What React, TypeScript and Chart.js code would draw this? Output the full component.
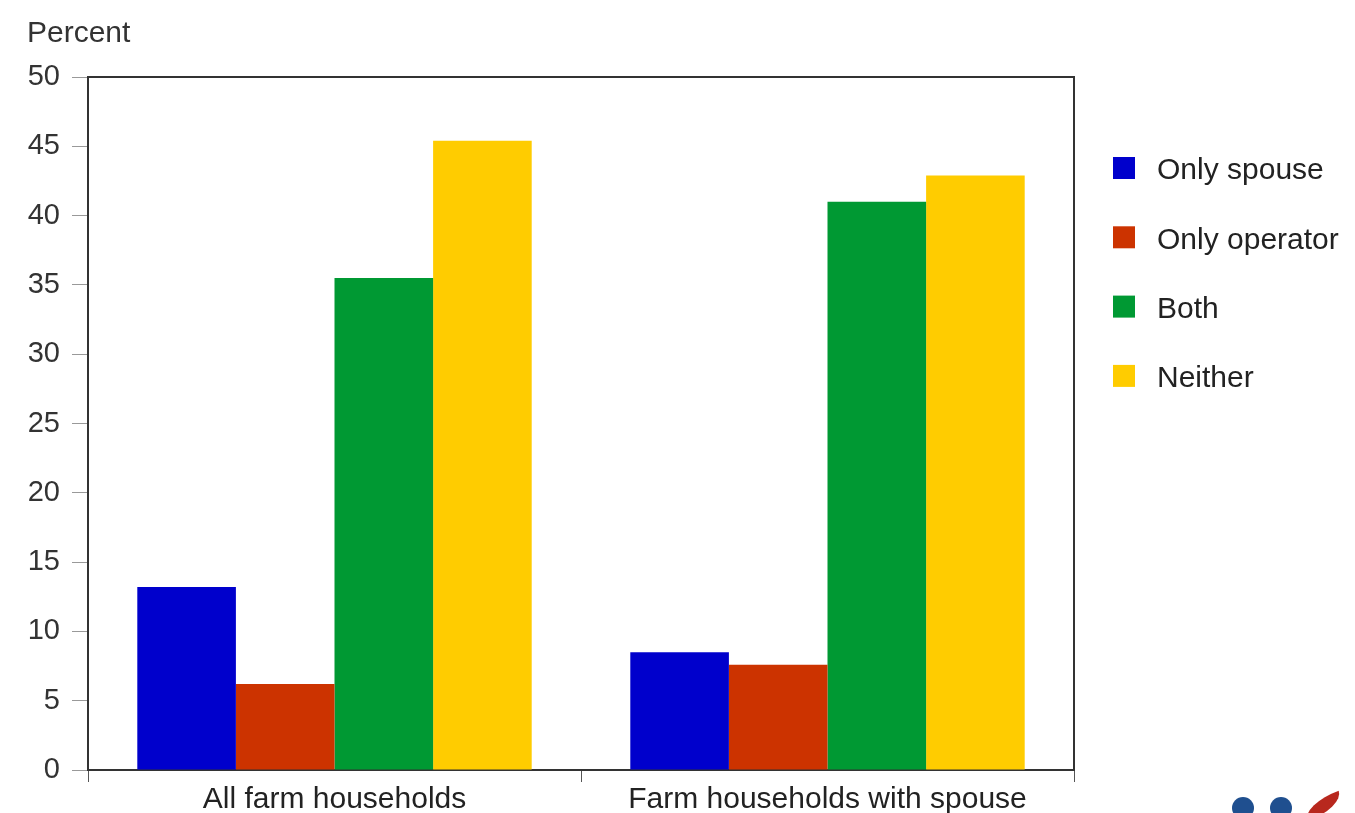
import React, { useEffect, useRef } from "react";
import { Chart, registerables } from "chart.js";

Chart.register(...registerables);

const categories = ["All farm households", "Farm households with spouse"];
const seriesNames = ["Only spouse", "Only operator", "Both", "Neither"];
const onlySpouse = [13.2, 8.5];
const onlyOperator = [6.2, 7.6];
const both = [35.5, 41.0];
const neither = [45.4, 42.9];
const seriesColors = ["#0000CC", "#CC3300", "#009933", "#FFCC00"];
const yTicks = [0, 5, 10, 15, 20, 25, 30, 35, 40, 45, 50];

const FONT = "'Liberation Sans', Arial, sans-serif";

const framePlugin = {
  id: "frame",
  afterDraw(chart: any) {
    const { ctx, chartArea } = chart;
    ctx.save();
    ctx.strokeStyle = "#333333";
    ctx.lineWidth = 2;
    ctx.beginPath();
    ctx.moveTo(chartArea.left, chartArea.top);
    ctx.lineTo(chartArea.right, chartArea.top);
    ctx.lineTo(chartArea.right, chartArea.bottom);
    ctx.stroke();
    // y-axis title
    ctx.fillStyle = "#333333";
    ctx.font = `30px ${FONT}`;
    ctx.textAlign = "left";
    ctx.textBaseline = "alphabetic";
    ctx.fillText("Percent", 27, 42);
    // legend
    const dsets = chart.data.datasets;
    ctx.font = `30px ${FONT}`;
    dsets.forEach((ds: any, i: number) => {
      const cy = 168 + i * 69.3;
      ctx.fillStyle = ds.backgroundColor;
      ctx.fillRect(1113, cy - 11, 22, 22);
      ctx.fillStyle = "#222222";
      ctx.textBaseline = "middle";
      ctx.fillText(ds.label, 1157, cy + 3);
    });
    ctx.restore();
  },
};

export default function App() {
  const ref = useRef<HTMLCanvasElement>(null);
  useEffect(() => {
    if (!ref.current) return;
    const chart = new Chart(ref.current, {
      type: "bar",
      data: {
        labels: categories,
        datasets: [onlySpouse, onlyOperator, both, neither].map((d, i) => ({
          label: seriesNames[i],
          data: d,
          backgroundColor: seriesColors[i],
          borderWidth: 0,
          categoryPercentage: 0.8,
          barPercentage: 1.0,
        })),
      },
      options: {
        responsive: false,
        animation: false,
        devicePixelRatio: 1,
        layout: { padding: { top: 77, right: 281, left: 0, bottom: 0 } },
        plugins: { legend: { display: false }, tooltip: { enabled: false } },
        scales: {
          x: {
            afterFit: (s: any) => {
              s.height = 43;
            },
            grid: {
              offset: true,
              drawOnChartArea: false,
              drawTicks: true,
              tickLength: 12,
              color: "#555555",
            },
            border: { display: true, color: "#333333", width: 2 },
            ticks: {
              color: "#222222",
              font: { family: FONT, size: 30 },
              padding: 0,
              maxRotation: 0,
            },
          },
          y: {
            min: 0,
            max: 50,
            afterFit: (s: any) => {
              s.width = 88;
            },
            afterBuildTicks: (s: any) => {
              s.ticks = yTicks.map((v) => ({ value: v }));
            },
            grid: {
              drawOnChartArea: false,
              drawTicks: true,
              tickLength: 16,
              color: "#999999",
            },
            border: { display: true, color: "#333333", width: 2 },
            ticks: {
              color: "#333333",
              font: { family: FONT, size: 29 },
              padding: 12,
            },
          },
        },
      },
      plugins: [framePlugin],
    });
    return () => chart.destroy();
  }, []);
  return (
    <div style={{ position: "fixed", left: 0, top: 0, width: 1355, height: 813, background: "#fff", overflow: "hidden" }}>
      <canvas ref={ref} width={1355} height={813} />
      <div style={{ position: "absolute", left: 1232, top: 797, width: 22, height: 22, borderRadius: "50%", background: "#1f4f8f" }} />
      <div style={{ position: "absolute", left: 1270, top: 797, width: 22, height: 22, borderRadius: "50%", background: "#1f4f8f" }} />
      <div style={{ position: "absolute", left: 1303, top: 797, width: 40, height: 18, borderRadius: "100% 0 100% 0", background: "#b8281e", transform: "rotate(-20deg)" }} />
    </div>
  );
}
